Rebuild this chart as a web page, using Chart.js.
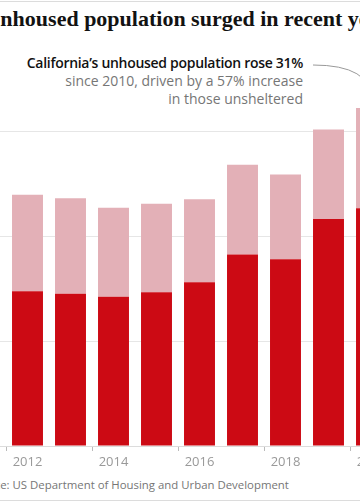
<!DOCTYPE html>
<html>
<head>
<meta charset="utf-8">
<script src="https://cdn.jsdelivr.net/npm/chart.js@4.4.1/dist/chart.umd.min.js"></script>
<style>
  html, body { margin: 0; padding: 0; background: #fff; }
  body { width: 360px; height: 504px; overflow: hidden; position: relative; font-family: 'Open Sans', sans-serif; }
  .rule { position: absolute; left: 0; width: 360px; height: 1px; background: #dcdcdc; }
  #title { position: absolute; top: 5px; white-space: nowrap; font-family: 'Liberation Serif', serif; font-weight: 700; font-size: 22px; line-height: 28px; color: #121212; }
  #note { position: absolute; top: 54px; right: 57px; text-align: right; white-space: nowrap; font-size: 14px; line-height: 18px; color: #767676; }
  #note b { color: #121212; font-weight: 600; letter-spacing: -0.3px; }
  #chartBox { position: absolute; left: -80px; top: 0; width: 473px; height: 476px; }
  #source { position: absolute; top: 476px; white-space: nowrap; font-size: 11.4px; line-height: 18px; color: #767676; }
</style>
</head>
<body>
<div class="rule" style="top:1px"></div>
<div id="title"><span id="tpre">California’s u</span>nhoused population surged in recent years</div>
<div id="note"><b>California’s unhoused population rose 31%</b><br>since 2010, driven by a 57% increase<br>in those unsheltered</div>
<div id="chartBox"><canvas id="myChart"></canvas></div>
<div id="source"><span id="spre">Sourc</span>e: US Department of Housing and Urban Development</div>
<div class="rule" style="top:500px"></div>

<script>
// values in thousands of people
var years = ['2010', '2011', '2012', '2013', '2014', '2015', '2016', '2017', '2018', '2019', '2020'];
var unsheltered = [72.3, 74.6, 73.9, 72.7, 71.2, 73.4, 78.2, 91.4, 89.2, 108.3, 113.5];
var sheltered = [51.4, 50.5, 46.0, 45.6, 42.5, 42.2, 39.6, 42.8, 40.4, 42.8, 47.8];
var yTicks = [0, 50, 100, 150];

// curved pointer from the note to the last bar
var pointerLine = {
  id: 'pointerLine',
  afterDatasetsDraw: function(chart) {
    var ctx = chart.ctx;
    var last = years.length - 1;
    var x = chart.scales.x.getPixelForValue(last);
    var y = chart.scales.y.getPixelForValue(unsheltered[last] + sheltered[last]) - 8;
    ctx.save();
    ctx.strokeStyle = '#999';
    ctx.lineWidth = 1;
    ctx.beginPath();
    ctx.moveTo(393, 65);
    ctx.quadraticCurveTo(x, 65, x, y);
    ctx.stroke();
    ctx.restore();
  }
};

function place() {
  document.getElementById('title').style.left = -document.getElementById('tpre').offsetWidth + 'px';
  document.getElementById('source').style.left = -document.getElementById('spre').offsetWidth + 'px';
}
place();

var ctx = document.getElementById('myChart').getContext('2d');

var myChart = new Chart(ctx, {
  type: 'bar',
  data: {
    labels: years,
    datasets: [
      {
        label: 'Unsheltered',
        data: unsheltered,
        backgroundColor: '#cc0a14',
        barPercentage: 0.72,
        categoryPercentage: 1
      },
      {
        label: 'Sheltered',
        data: sheltered,
        backgroundColor: '#e3b0b7',
        barPercentage: 0.72,
        categoryPercentage: 1
      }
    ]
  },
  options: {
    responsive: true,
    maintainAspectRatio: false,
    animation: false,
    layout: { padding: { top: 27, left: 0, right: 0, bottom: 0 } },
    plugins: {
      legend: { display: false },
      tooltip: { enabled: false }
    },
    scales: {
      x: {
        stacked: true,
        offset: true,
        grid: {
          drawOnChartArea: false,
          tickLength: 5,
          tickColor: function(c) { return c.index % 2 === 0 ? '#bbb' : 'rgba(0,0,0,0)'; }
        },
        border: { color: '#dcdcdc' },
        ticks: {
          autoSkip: false,
          maxRotation: 0,
          padding: 3,
          color: '#999',
          font: { family: 'Open Sans', size: 13 },
          callback: function(v, i) { return i % 2 === 0 ? years[i] : ''; }
        },
        afterFit: function(scale) { scale.height = 30; }
      },
      y: {
        stacked: true,
        min: 0,
        max: 200,
        ticks: { display: false, stepSize: 50 },
        afterBuildTicks: function(scale) {
          scale.ticks = yTicks.map(function(v) { return { value: v }; });
        },
        afterFit: function(scale) { scale.width = 0; },
        grid: { color: '#e6e6e6', drawTicks: false },
        border: { display: false }
      }
    }
  },
  plugins: [pointerLine]
});
</script>
</body>
</html>
